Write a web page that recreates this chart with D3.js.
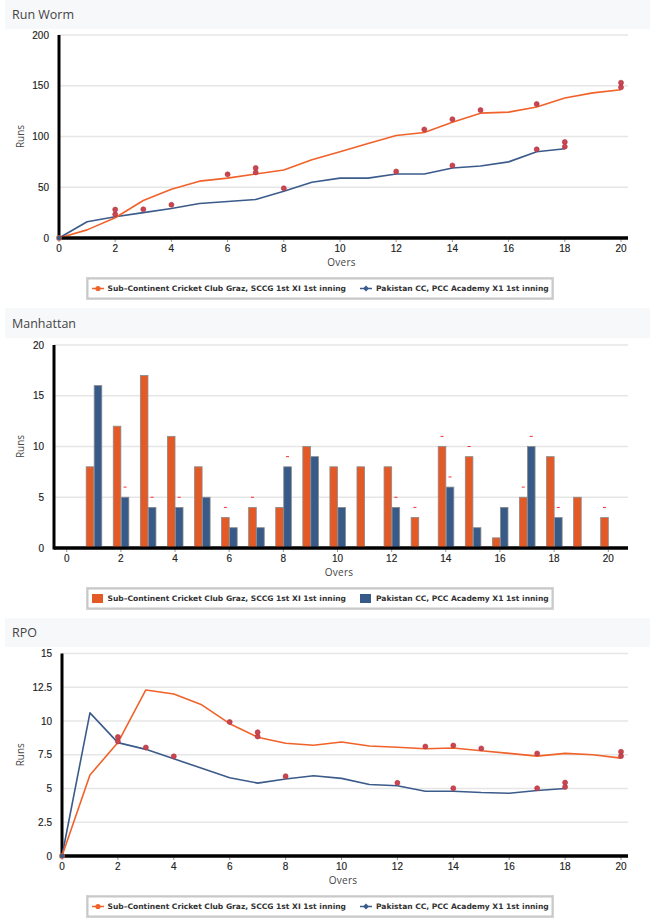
<!DOCTYPE html>
<html><head><meta charset="utf-8">
<script src="https://cdn.jsdelivr.net/npm/d3@7"></script>
<style>
html,body{margin:0;padding:0;background:#fff;}
svg{display:block;}
</style></head>
<body>
<script>
// ---------- DATA ----------
const overs = d3.range(0, 21);
const overTicks = [0,2,4,6,8,10,12,14,16,18,20];
const teamA = "Sub\u2013Continent Cricket Club Graz, SCCG 1st XI 1st inning";
const teamB = "Pakistan CC, PCC Academy X1 1st inning";

// Run worm (cumulative runs), index = over
const wormA = [0,8,20,37,48,56,59,63,67,77,85,93,101,104,114,123,124,129,138,143,146];
const wormB = [0,16,21,25,29,34,36,38,46,55,59,59,63,63,69,71,75,85,88];
const wormWktsA = [[6,62.7],[7,64.6],[7,69],[13,107],[14,117],[15,126],[17,132],[20,148.5],[20,153]];
const wormWktsB = [[2,23.3],[2,28],[3,28.3],[4,32.7],[8,49],[12,65.6],[14,71.5],[17,87.4],[18,90],[18,94.6]];
const wormYTicks = [0,50,100,150,200];

// Manhattan (runs per over), index 0 = over 1
const manA = [8,12,17,11,8,3,4,4,10,8,8,8,3,10,9,1,5,9,5,3];
const manB = [16,5,4,4,5,2,2,8,9,4,0,4,0,6,2,4,10,3];
const manWktsA = [6,7,13,14,15,17,20];
const manWktsB = [2,3,4,8,12,14,17,18];
const manYTicks = [0,5,10,15,20];

// RPO, index = over
const rpoA = [0,6.0,8.4,12.3,12.0,11.2,9.8,8.8,8.35,8.2,8.45,8.15,8.05,7.95,8.0,7.8,7.6,7.4,7.6,7.5,7.25];
const rpoB = [0,10.6,8.4,7.9,7.2,6.5,5.8,5.4,5.7,5.95,5.75,5.3,5.2,4.8,4.8,4.7,4.65,4.85,5.0];
const rpoWktsA = [[6,9.93],[7,8.85],[7,9.17],[13,8.11],[14,8.19],[15,7.97],[17,7.6],[20,7.4],[20,7.72]];
const rpoWktsB = [[2,8.48],[2,8.82],[3,8.04],[4,7.38],[8,5.91],[12,5.42],[14,5.02],[17,5.02],[18,5.12],[18,5.44]];
const rpoYTicks = [0,2.5,5,7.5,10,12.5,15];

// ---------- STYLE ----------
const cA = "#f0622a", cB = "#3b5b8a";
const barA = "#e45a27", barB = "#385a88";
const wktFill = "#c9454f", wktStroke = "#b0343f";
const gridC = "#e6e6e6";
const tickFont = "'Liberation Sans', Arial, sans-serif";
const labelFont = "'Open Sans', 'DejaVu Sans', sans-serif";
const legFont = "'DejaVu Sans', Verdana, sans-serif";

const svg = d3.select("body").append("svg").attr("width",650).attr("height",923);

function header(y0, h, title){
  svg.append("rect").attr("x",5).attr("y",y0).attr("width",645).attr("height",h).attr("fill","#f7f8fa");
  svg.append("text").attr("x",12).attr("y",y0+h/2+4.5).text(title)
    .attr("font-family",labelFont).attr("font-size",12.5).attr("fill","#444");
}

function frame(g, x, y, xTicks, yTicks, xLeft, xRight, yTop, yBot, yFmt){
  g.selectAll(".grid").data(yTicks).join("line")
    .attr("x1",xLeft).attr("x2",xRight).attr("y1",d=>y(d)).attr("y2",d=>y(d))
    .attr("stroke",gridC).attr("stroke-width",1.5);
  g.selectAll(".yl").data(yTicks).join("text")
    .attr("x",xLeft-10).attr("y",d=>y(d)+3.5).attr("text-anchor","end")
    .attr("font-family",tickFont).attr("font-size",10).attr("fill","#222")
    .attr("stroke","#222").attr("stroke-width",0.15).text(yFmt);
  g.selectAll(".xt").data(xTicks).join("line")
    .attr("x1",d=>x(d)).attr("x2",d=>x(d)).attr("y1",yBot).attr("y2",yBot+4)
    .attr("stroke","#999").attr("stroke-width",1);
  g.selectAll(".xl").data(xTicks).join("text")
    .attr("x",d=>x(d)).attr("y",yBot+13.5).attr("text-anchor","middle")
    .attr("font-family",tickFont).attr("font-size",10).attr("fill","#222")
    .attr("stroke","#222").attr("stroke-width",0.15).text(d=>d);
  g.append("line").attr("x1",xLeft).attr("x2",xRight).attr("y1",yBot).attr("y2",yBot)
    .attr("stroke","#000").attr("stroke-width",3);
  g.append("line").attr("x1",xLeft).attr("x2",xLeft).attr("y1",yTop).attr("y2",yBot+1.5)
    .attr("stroke","#000").attr("stroke-width",3);
  g.append("text").attr("x",(xLeft+xRight)/2-2).attr("y",yBot+28).attr("text-anchor","middle")
    .attr("font-family",labelFont).attr("font-size",10).attr("fill","#444").attr("letter-spacing",0.3).text("Overs");
  g.append("text").attr("transform",`translate(24,${(yTop+yBot)/2}) rotate(-90)`).attr("text-anchor","middle")
    .attr("font-family",labelFont).attr("font-size",10).attr("fill","#444").text("Runs");
}

function legend(y0, type){
  const g = svg.append("g");
  g.append("rect").attr("x",87).attr("y",y0).attr("width",466).attr("height",21)
    .attr("fill","#fff").attr("stroke","#d4d4d4").attr("stroke-width",2);
  g.append("rect").attr("x",88).attr("y",y0+1).attr("width",464).attr("height",19)
    .attr("fill","none").attr("stroke","#b8b8b8").attr("stroke-width",0.8);
  const cy = y0+10.5;
  const items = [{x:92, c: type==="bar"?barA:cA, t:teamA, m:"circle", tx:107.5},
                 {x:360, c: type==="bar"?barB:cB, t:teamB, m:"diamond", tx:376}];
  items.forEach(it=>{
    if(type==="bar"){
      g.append("rect").attr("x",it.x).attr("y",cy-4.5).attr("width",11).attr("height",9).attr("fill",it.c);
    } else {
      g.append("line").attr("x1",it.x).attr("x2",it.x+12).attr("y1",cy).attr("y2",cy)
        .attr("stroke",it.c).attr("stroke-width",1.5);
      if(it.m==="circle") g.append("circle").attr("cx",it.x+6).attr("cy",cy).attr("r",2.6).attr("fill",it.c);
      else g.append("path").attr("d",`M${it.x+6},${cy-3}L${it.x+9},${cy}L${it.x+6},${cy+3}L${it.x+3},${cy}Z`).attr("fill",it.c);
    }
    g.append("text").attr("x",it.tx).attr("y",cy+2.8).text(it.t)
      .attr("font-family",legFont).attr("font-weight","bold").attr("font-size",7.55).attr("fill","#333");
  });
}

function lineChart(yTop, yBot, yMax, yTicks, dA, dB, wA, wB, yFmt, xLeft, xEnd){
  const g = svg.append("g");
  const x = d3.scaleLinear().domain([0,20]).range([xLeft, xEnd]);
  const y = d3.scaleLinear().domain([0,yMax]).range([yBot, yTop]);
  frame(g, x, y, overTicks, yTicks, xLeft, 628, yTop, yBot, yFmt);
  const line = d3.line().x((d,i)=>x(overs[i])).y(d=>y(d));
  g.append("path").datum(dB).attr("d",line).attr("fill","none").attr("stroke",cB).attr("stroke-width",1.6).attr("stroke-linejoin","round");
  g.append("path").datum(dA).attr("d",line).attr("fill","none").attr("stroke",cA).attr("stroke-width",1.6).attr("stroke-linejoin","round");
  g.selectAll(".wk").data(wA.concat(wB)).join("circle")
    .attr("cx",d=>x(d[0])).attr("cy",d=>y(d[1])).attr("r",2.5)
    .attr("fill",wktFill).attr("stroke",wktStroke).attr("stroke-width",0.6);
  g.append("line").attr("x1",xLeft).attr("x2",628).attr("y1",yBot).attr("y2",yBot).attr("stroke","#000").attr("stroke-width",3);
  g.append("circle").attr("cx",x(0)).attr("cy",y(0)).attr("r",3).attr("fill",cA).attr("opacity",0.8);
  g.append("circle").attr("cx",x(0)).attr("cy",y(0)).attr("r",2.3).attr("fill",cB);
}

// ---------- Chart 1: Run Worm ----------
header(0, 29, "Run Worm");
lineChart(35, 238, 200, wormYTicks, wormA, wormB, wormWktsA, wormWktsB, d=>d, 59, 621);
legend(278, "line");

// ---------- Chart 2: Manhattan ----------
header(308, 30, "Manhattan");
(function(){
  const g = svg.append("g");
  const yTop = 345, yBot = 548, xLeft = 54;
  const x = d3.scaleLinear().domain([0,20]).range([66.7, 608.3]);
  const y = d3.scaleLinear().domain([0,20]).range([yBot, yTop]);
  frame(g, x, y, overTicks, manYTicks, xLeft, 628, yTop, yBot, d=>d);
  const bw = 7.6;
  const dataA = manA.map((v,i)=>({o:i+1,v}));
  const dataB = manB.map((v,i)=>({o:i+1,v})).filter(d=>d.v>0);
  g.selectAll(".ba").data(dataA).join("rect")
    .attr("x",d=>x(d.o)-bw).attr("width",bw).attr("y",d=>y(d.v)).attr("height",d=>yBot-y(d.v))
    .attr("fill",barA).attr("stroke","#8a8a8a").attr("stroke-width",0.8);
  g.selectAll(".bb").data(dataB).join("rect")
    .attr("x",d=>x(d.o)+0.4).attr("width",bw).attr("y",d=>y(d.v)).attr("height",d=>yBot-y(d.v))
    .attr("fill",barB).attr("stroke","#8a8a8a").attr("stroke-width",0.8);
  g.selectAll(".wa").data(manWktsA).join("line")
    .attr("x1",o=>x(o)-bw/2-1.5).attr("x2",o=>x(o)-bw/2+1.5)
    .attr("y1",o=>y(manA[o-1]+1)).attr("y2",o=>y(manA[o-1]+1))
    .attr("stroke","#ff2a2a").attr("stroke-width",1);
  g.selectAll(".wb").data(manWktsB).join("line")
    .attr("x1",o=>x(o)+bw/2-1.1).attr("x2",o=>x(o)+bw/2+1.9)
    .attr("y1",o=>y(manB[o-1]+1)).attr("y2",o=>y(manB[o-1]+1))
    .attr("stroke","#ff2a2a").attr("stroke-width",1);
  g.append("line").attr("x1",xLeft).attr("x2",628).attr("y1",yBot).attr("y2",yBot).attr("stroke","#000").attr("stroke-width",3);
})();
legend(588, "bar");

// ---------- Chart 3: RPO ----------
header(618, 29, "RPO");
lineChart(653.5, 856, 15, rpoYTicks, rpoA, rpoB, rpoWktsA, rpoWktsB, d=>d, 62, 621);
legend(896, "line");
</script>
</body></html>
